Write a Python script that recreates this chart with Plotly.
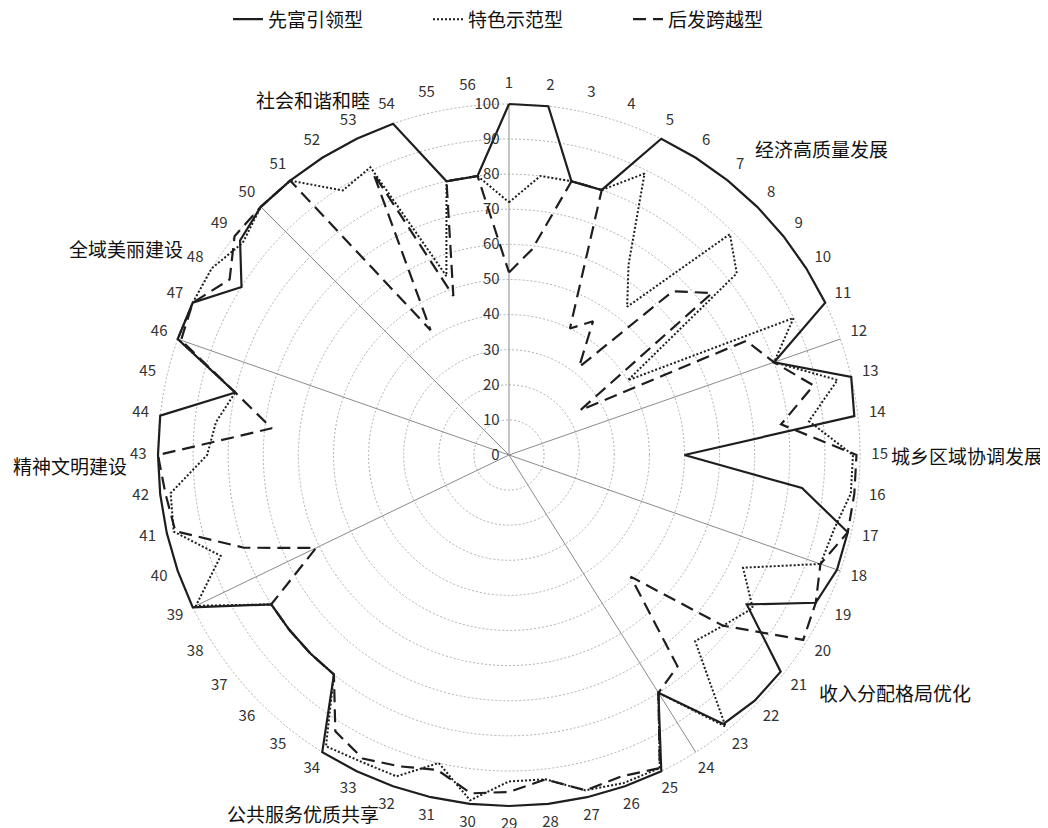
import plotly.graph_objects as go

categories = [str(i) for i in range(1, 57)]

xianfu = [100, 100, 80, 80, 100, 100, 100, 100, 100, 100, 100, 80, 100, 99, 50, 84,
          99, 99, 97, 80, 99, 99, 98, 80, 100, 100, 100, 100, 100, 100, 100, 100,
          100, 100, 80, 80, 80, 80, 100, 100, 100, 100, 100, 100, 80, 100, 100, 90,
          98, 100, 100, 100, 100, 100, 80, 80]

tese = [72, 80, 80, 80, 89, 64, 54, 89, 83, 40, 90, 80, 96, 86, 98, 98,
        95, 94, 74, 82, 78, 75, 99, 80, 99, 99, 98, 93, 93, 99, 90, 97,
        97, 98, 80, 80, 80, 80, 99, 87, 98, 97, 86, 84, 80, 100, 100, 100,
        97, 100, 100, 89, 91, 54, 80, 80]

houfa = [52, 59, 80, 80, 40, 45, 32, 66, 74, 24, 75, 80, 89, 78, 99, 99,
         99, 94, 97, 99, 78, 49, 77, 80, 99, 97, 98, 93, 96, 97, 92, 94,
         96, 93, 80, 80, 80, 80, 61, 80, 97.5, 98.5, 100, 68, 80, 99, 100, 94,
         100, 100, 100, 42, 89, 48, 80, 80]

series_names = ["先富引领型", "特色示范型", "后发跨越型"]

# section start categories (spokes) and section names
section_starts = [1, 12, 18, 24, 39, 46, 50]
section_names = ["经济高质量发展", "城乡区域协调发展", "收入分配格局优化", "公共服务优质共享",
                 "精神文明建设", "全域美丽建设", "社会和谐和睦"]

radial_ticks = list(range(0, 101, 10))

n = len(categories)
step = 360.0 / n
thetas = [i * step for i in range(n)]

FONT = "Noto Sans CJK SC, Open Sans, sans-serif"
INK = "#1e1e1e"

# page body has an 8px margin: work in reference pixels, shift by OFF
OFF = 8
W, H = 1040, 820


def px_x(x):
    return (x - OFF) / W


def px_y(y):
    return 1 - (y - OFF) / H


fig = go.Figure()

# section spokes (the one at category 1 doubles as the radial axis line)
for s in section_starts:
    t = thetas[s - 1]
    fig.add_trace(go.Scatterpolar(r=[0, 100], theta=[t, t], mode="lines",
                                  line=dict(color="#8a8a8a", width=1),
                                  showlegend=False, hoverinfo="skip"))

styles = [dict(dash="solid", width=2.2), dict(dash="2px,2px", width=2.0),
          dict(dash="13px,7px", width=2.2)]
for name, vals, st in zip(series_names, [xianfu, tese, houfa], styles):
    fig.add_trace(go.Scatterpolar(
        r=vals + [vals[0]], theta=thetas + [thetas[0]], mode="lines", name=name,
        line=dict(color=INK, width=st["width"], dash=st["dash"])))

# category labels, centred just outside the outer ring
fig.add_trace(go.Scatterpolar(r=[105.6] * n, theta=thetas, mode="text", text=categories,
                              textposition="middle center", cliponaxis=False,
                              textfont=dict(family=FONT, size=15, color="#333"),
                              showlegend=False, hoverinfo="skip"))

label_px = [(821, 148), (967, 455), (895, 692), (303, 813), (70, 465), (126, 248), (313, 100)]
for txt, (px, py) in zip(section_names, label_px):
    fig.add_annotation(x=px_x(px), y=px_y(py), xref="paper", yref="paper", text=txt,
                       showarrow=False, font=dict(family=FONT, size=19, color="#111"),
                       xanchor="center", yanchor="middle")

RMAX = 106.2
cx, cy, R100 = 509, 455, 351
R = R100 * RMAX / 100.0
fig.update_layout(
    width=W, height=H,
    margin=dict(l=0, r=0, t=0, b=0, autoexpand=False),
    paper_bgcolor="white",
    font=dict(family=FONT, color="#333"),
    showlegend=True,
    legend=dict(orientation="h", x=px_x(228), xanchor="left", y=1.0094, yanchor="top",
                font=dict(family=FONT, size=19, color="#111"),
                entrywidth=155, entrywidthmode="pixels"),
    polar=dict(
        domain=dict(x=[px_x(cx - R), px_x(cx + R)],
                    y=[max(0.0, px_y(cy + R)), min(1.0, px_y(cy - R))]),
        bgcolor="rgba(0,0,0,0)",
        radialaxis=dict(range=[0, RMAX], tickvals=radial_ticks,
                        ticktext=[str(v) + "\u00a0\u00a0" for v in radial_ticks],
                        angle=90, side="counterclockwise", tickangle=90,
                        showline=False, gridcolor="#b0b0b0", griddash="2px,2px",
                        gridwidth=1.3, ticks="",
                        tickfont=dict(family=FONT, size=15, color="#333")),
        angularaxis=dict(rotation=90, direction="clockwise", tickmode="array",
                         tickvals=thetas, ticktext=categories, showgrid=False,
                         showline=False, ticks="", showticklabels=False),
    ),
)

fig.write_html("out.html")
